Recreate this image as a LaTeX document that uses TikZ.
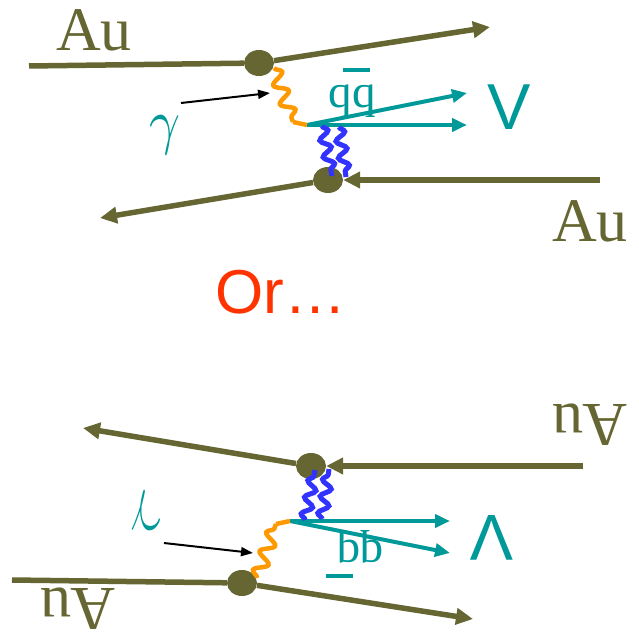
\documentclass[tikz,border=0pt]{standalone}
\usepackage{fontspec}
\setmainfont{Liberation Serif}
\newfontfamily\arialfont{Liberation Sans}
\usetikzlibrary{arrows.meta,decorations.pathmorphing,shapes.geometric}
\definecolor{auolive}{RGB}{102,102,51}
\definecolor{tealc}{RGB}{0,153,153}
\definecolor{orangec}{RGB}{255,153,0}
\definecolor{bluec}{RGB}{51,51,255}
\definecolor{redc}{RGB}{255,51,0}
\begin{document}
\begin{tikzpicture}[x=1pt,y=-1pt,
  beam/.style={draw=auolive, line width=5.5pt},
  beamarrow/.style={beam, -{Triangle[length=17pt,width=16pt]}},
  dot/.style={ellipse, fill=auolive, minimum width=30pt, minimum height=26pt, inner sep=0pt},
  tealarrow/.style={draw=tealc, line width=4pt, -{Triangle[length=15pt,width=13pt]}},
  tealline/.style={draw=tealc, line width=4pt},
  photon/.style={draw=orangec, line width=4.5pt, decorate, decoration={snake, segment length=20pt, amplitude=6.5pt}},
  photonstub/.style={draw=orangec, line width=4.5pt},
  gluon/.style={draw=bluec, line width=5pt, decorate, decoration={snake, segment length=17pt, amplitude=5pt}},
  pointer/.style={draw=black, line width=2pt, -{Triangle[length=12pt,width=9pt]}},
  autext/.style={text=auolive, font=\fontsize{62}{62}\selectfont, inner sep=0pt},
  vtext/.style={text=tealc, font=\arialfont\fontsize{65}{65}\selectfont, inner sep=0pt},
  qtext/.style={text=tealc, font=\fontsize{47}{47}\selectfont, inner sep=0pt},
  gtext/.style={text=tealc, inner sep=0pt},
  ortext/.style={text=redc, font=\arialfont\fontsize{62}{62}\selectfont, inner sep=0pt}
]
\useasboundingbox (0,0) rectangle (639,639);

% ---------------- upper diagram ----------------
\node[dot] (d1) at (259,63) {};
\node[dot] (d2) at (328,180) {};
\coordinate (a1in) at (29,66);
\coordinate (a1out) at (490,27);
\coordinate (a2in) at (600,180);
\coordinate (a2out) at (100,218);
\coordinate (v1) at (307,125);
\coordinate (t1) at (467,93);
\coordinate (t2) at (467,125);
\coordinate (p1s) at (274,68);
\coordinate (p1e) at (293,122);
\coordinate (g1as) at (322,126);
\coordinate (g1ae) at (332,176);
\coordinate (g1bs) at (339,127);
\coordinate (g1be) at (346,177);
\coordinate (ar1s) at (181,103);
\coordinate (ar1e) at (270,93);
\coordinate (bar1s) at (343,70);
\coordinate (bar1e) at (370,70);

\draw[beam] (a1in) -- (d1);
\draw[beamarrow] (d1) -- (a1out);
\draw[beamarrow] (a2in) -- (d2);
\draw[beamarrow] (d2) -- (a2out);

\node[qtext] (qq1) at (352,101) {qq};
\draw[tealline, line width=3.5pt] (bar1s) -- (bar1e);
\draw[tealarrow] (v1) -- (t1);
\draw[tealarrow] (v1) -- (t2);
\draw[photon] (p1s) -- (p1e);
\draw[photonstub] (p1e) -- (v1);
\draw[gluon] (g1as) -- (g1ae);
\draw[gluon] (g1bs) -- (g1be);
\draw[pointer] (ar1s) -- (ar1e);

\node[autext] (au1) at (94,30) {Au};
\node[autext] (au2) at (590,221) {Au};
\node[vtext] (vv1) at (509,107) {V};
\node[gtext] (gam1) at (165,135) {\scalebox{5.4}[6.2]{$\gamma$}};

\node[ortext] (or) at (281,292) {Or…};

% ---------------- lower diagram (mirrored) ----------------
\node[dot] (d3) at (242,583) {};
\node[dot] (d4) at (311,466) {};
\coordinate (a3in) at (12,580);
\coordinate (a3out) at (473,619);
\coordinate (a4in) at (583,466);
\coordinate (a4out) at (83,428);
\coordinate (v2) at (290,521);
\coordinate (t3) at (450,553);
\coordinate (t4) at (450,521);
\coordinate (p2s) at (257,578);
\coordinate (p2e) at (276,524);
\coordinate (g2as) at (305,520);
\coordinate (g2ae) at (315,470);
\coordinate (g2bs) at (322,519);
\coordinate (g2be) at (329,469);
\coordinate (ar2s) at (164,543);
\coordinate (ar2e) at (253,553);
\coordinate (bar2s) at (326,576);
\coordinate (bar2e) at (353,576);

\draw[beam] (a3in) -- (d3);
\draw[beamarrow] (d3) -- (a3out);
\draw[beamarrow] (a4in) -- (d4);
\draw[beamarrow] (d4) -- (a4out);

\node[qtext, rotate=180] (qq2) at (360,547) {qq};
\draw[tealline, line width=3.5pt] (bar2s) -- (bar2e);
\draw[tealarrow] (v2) -- (t3);
\draw[tealarrow] (v2) -- (t4);
\draw[photon] (p2s) -- (p2e);
\draw[photonstub] (p2e) -- (v2);
\draw[gluon] (g2as) -- (g2ae);
\draw[gluon] (g2bs) -- (g2be);
\draw[pointer] (ar2s) -- (ar2e);

\node[autext, rotate=180] (au3) at (78,609) {Au};
\node[autext, rotate=180] (au4) at (590,425) {Au};
\node[vtext, rotate=180] (vv2) at (492,538) {V};
\node[gtext, rotate=180] (gam2) at (146,511) {\scalebox{5.4}[6.2]{$\gamma$}};
\end{tikzpicture}
\end{document}
